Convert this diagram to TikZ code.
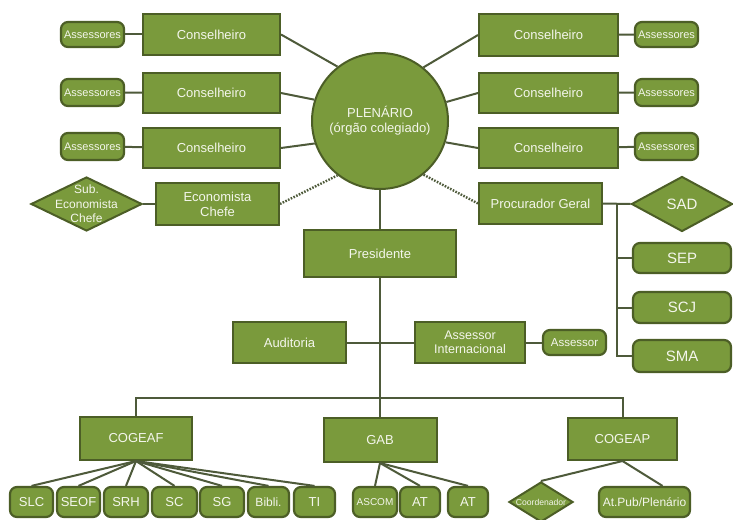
\documentclass[tikz,border=0pt]{standalone}
\usepackage{fontspec}
\setmainfont{Liberation Sans}
\usetikzlibrary{shapes.geometric,calc}
\definecolor{ogreen}{HTML}{7A9A3C}
\definecolor{odark}{HTML}{4C5E26}
\definecolor{oline}{HTML}{4E5A3A}
\definecolor{otext}{HTML}{F4F6EC}
\tikzset{
  x=1pt, y=-1pt,
  base/.style={fill=ogreen, draw=odark, line width=2pt, text=otext, inner sep=0pt, align=center, font=\fontsize{13}{15}\selectfont},
  sqbox/.style={base, rectangle},
  rbox/.style={base, rectangle, rounded corners=7pt, line width=2.2pt},
  dbox/.style={base, diamond},
  conn/.style={draw=oline, line width=2pt},
  dotconn/.style={draw=oline, line width=2.4pt, dash pattern=on 1.6pt off 1.4pt},
  wh/.style 2 args={minimum width=#1, minimum height=#2}
}
\begin{document}
\begin{tikzpicture}
\useasboundingbox (0,0) rectangle (733,519);
\fill[white] (0,0) rectangle (733,519);

% plenario
\node[base, circle, minimum size=136pt] (plen) at (380,121) {PLENÁRIO\\(órgão colegiado)};

% left conselheiros
\node[sqbox, wh={137pt}{41pt}] (c1L) at (211.5,34.5) {Conselheiro};
\node[sqbox, wh={137pt}{40pt}] (c2L) at (211.5,93) {Conselheiro};
\node[sqbox, wh={137pt}{40pt}] (c3L) at (211.5,148) {Conselheiro};
\node[rbox, wh={63pt}{25pt}, font=\fontsize{11}{13}\selectfont] (a1L) at (92.5,34.5) {Assessores};
\node[rbox, wh={63pt}{27pt}, font=\fontsize{11}{13}\selectfont] (a2L) at (92.5,92.5) {Assessores};
\node[rbox, wh={63pt}{27pt}, font=\fontsize{11}{13}\selectfont] (a3L) at (92.5,146.5) {Assessores};

% right conselheiros
\node[sqbox, wh={139pt}{42pt}] (c1R) at (548.5,35) {Conselheiro};
\node[sqbox, wh={139pt}{40pt}] (c2R) at (548.5,93) {Conselheiro};
\node[sqbox, wh={139pt}{40pt}] (c3R) at (548.5,148) {Conselheiro};
\node[rbox, wh={63pt}{25pt}, font=\fontsize{11}{13}\selectfont] (a1R) at (666.5,34.5) {Assessores};
\node[rbox, wh={63pt}{27pt}, font=\fontsize{11}{13}\selectfont] (a2R) at (666.5,92.5) {Assessores};
\node[rbox, wh={63pt}{27pt}, font=\fontsize{11}{13}\selectfont] (a3R) at (666.5,146.5) {Assessores};

% economista
\node[sqbox, wh={123pt}{42pt}] (eco) at (217.5,204) {Economista\\Chefe};
\node[dbox, wh={111pt}{54pt}, label={[text=otext, align=center, font=\fontsize{12}{14.5}\selectfont]center:Sub.\\Economista\\Chefe}] (sub) at (86.5,204) {};

% procurador
\node[sqbox, wh={123pt}{41pt}] (proc) at (540.5,203.5) {Procurador Geral};
\node[dbox, wh={101pt}{55pt}, label={[text=otext, font=\fontsize{15}{17}\selectfont]center:SAD}] (sad) at (682,204) {};
\node[rbox, wh={98pt}{30pt}, font=\fontsize{15}{17}\selectfont] (sep) at (682,258) {SEP};
\node[rbox, wh={98pt}{31pt}, font=\fontsize{15}{17}\selectfont] (scj) at (682,307.5) {SCJ};
\node[rbox, wh={98pt}{32pt}, font=\fontsize{15}{17}\selectfont] (sma) at (682,356) {SMA};

% presidente etc
\node[sqbox, wh={152pt}{47pt}] (pres) at (380,253.5) {Presidente};
\node[sqbox, wh={113pt}{41pt}] (aud) at (289.5,342.5) {Auditoria};
\node[sqbox, wh={110pt}{41pt}, font=\fontsize{12.5}{14.5}\selectfont] (ai) at (470,342.5) {Assessor\\Internacional};
\node[rbox, wh={63pt}{25pt}, font=\fontsize{11.5}{13}\selectfont] (ass) at (574.5,342.5) {Assessor};

% coordenacoes
\node[sqbox, wh={112pt}{43pt}] (cogeaf) at (136,438.5) {COGEAF};
\node[sqbox, wh={113pt}{44pt}] (gab) at (380,440) {GAB};
\node[sqbox, wh={109pt}{42pt}] (cogeap) at (622.5,439) {COGEAP};

% bottom row
\node[rbox, wh={43pt}{30pt}] (slc) at (31.5,502) {SLC};
\node[rbox, wh={43pt}{30pt}] (seof) at (78.5,502) {SEOF};
\node[rbox, wh={44pt}{30pt}] (srh) at (126,502) {SRH};
\node[rbox, wh={45pt}{30pt}] (sc) at (174.5,502) {SC};
\node[rbox, wh={44pt}{30pt}] (sg) at (222,502) {SG};
\node[rbox, wh={41pt}{30pt}, font=\fontsize{12}{14}\selectfont] (bibli) at (268.5,502) {Bibli.};
\node[rbox, wh={41pt}{30pt}] (ti) at (314.5,502) {TI};
\node[rbox, wh={44pt}{30pt}, font=\fontsize{10}{12}\selectfont] (ascom) at (375,502) {ASCOM};
\node[rbox, wh={40pt}{30pt}] (at1) at (420,502) {AT};
\node[rbox, wh={40pt}{30pt}] (at2) at (468,502) {AT};
\node[dbox, wh={64pt}{40pt}, label={[text=otext, font=\fontsize{8.6}{10}\selectfont]center:Coordenador}] (coord) at (541,502) {};
\node[rbox, wh={91pt}{30pt}, font=\fontsize{12}{14}\selectfont] (atpub) at (644.5,502) {At.Pub/Plenário};

% connectors: conselheiros
\draw[conn] (a1L) -- (c1L); \draw[conn] (c1L.east) -- (plen.128);
\draw[conn] (a2L) -- (c2L); \draw[conn] (c2L.east) -- (plen.162);
\draw[conn] (a3L) -- (c3L); \draw[conn] (c3L.east) -- (plen.199);
\draw[conn] (a1R) -- (c1R); \draw[conn] (c1R.west) -- (plen.51);
\draw[conn] (a2R) -- (c2R); \draw[conn] (c2R.west) -- (plen.16);
\draw[conn] (a3R) -- (c3R); \draw[conn] (c3R.west) -- (plen.-18);

% economista / procurador
\draw[conn] (sub.east) -- (eco.west);
\draw[dotconn] (eco.east) -- (plen.232);
\draw[dotconn] (proc.west) -- (plen.309);
\draw[conn] (proc.east) -- (sad.west);
\coordinate (pb) at (617,204);
\draw[conn] (pb) |- (sma.west);
\draw[conn] (pb |- sep.west) -- (sep.west);
\draw[conn] (pb |- scj.west) -- (scj.west);

% presidente trunk
\draw[conn] (plen.south) -- (pres.north);
\draw[conn] (pres.south) -- (gab.north);
\draw[conn] (aud.east) -- (ai.west);
\draw[conn] (ai.east) -- (ass.west);
\coordinate (busl) at (136,398);
\coordinate (busr) at (622.5,398);
\draw[conn] (cogeaf.north) -- (busl) -- (busr) -- (cogeap.north);

% bottom connectors
\foreach \n in {slc,seof,srh,sc,sg,bibli,ti} { \draw[conn] (cogeaf.south) -- (\n.north); }
\foreach \n in {ascom,at1,at2} { \draw[conn] (gab.south) -- (\n.north); }
\draw[conn] (cogeap.south) -- (coord.north);
\draw[conn] (cogeap.south) -- ([xshift=18pt]atpub.north);
\end{tikzpicture}
\end{document}
